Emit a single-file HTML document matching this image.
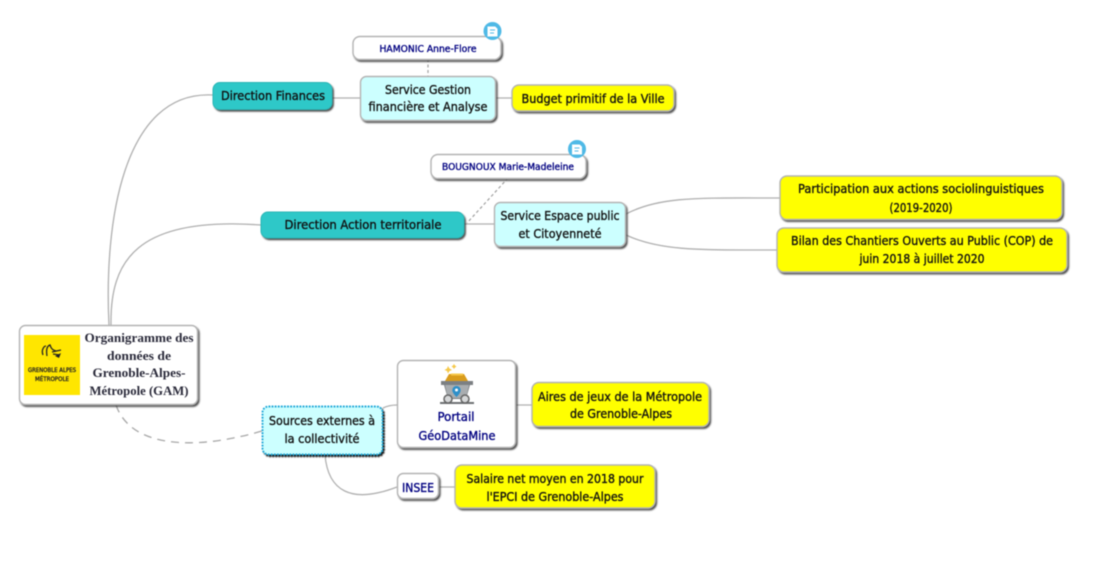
<!DOCTYPE html>
<html lang="fr"><head><meta charset="utf-8"><title>Organigramme</title>
<style>
html,body{margin:0;padding:0;background:#fff;width:1104px;height:569px;overflow:hidden}
svg{display:block;filter:blur(.45px)}
text{font-family:"DejaVu Sans",sans-serif;font-size:12px;text-anchor:middle;fill:#111;stroke:#111;stroke-width:.35px}
.n text,text.n{fill:#000080;stroke:#000080}
.c{fill:none;stroke:#b0b0b0;stroke-width:1.300}
.d{fill:none;stroke:#a0a0a0;stroke-width:1.200;stroke-dasharray:3 2.500}
.b{stroke:#b4b4b4;stroke-width:1.400}
.se{font-family:"Liberation Serif",serif;font-weight:bold;font-size:12.500px;fill:#2a2a3a;stroke:none}
.lg{font-size:6px;fill:#222;stroke:#222;stroke-width:.3px}
</style></head><body>
<svg width="1104" height="569" viewBox="0 0 1104 569" xmlns="http://www.w3.org/2000/svg">
<defs>
<filter id="sh" x="-10%" y="-20%" width="120%" height="150%"><feDropShadow dx="1.400" dy="1.700" stdDeviation=".8" flood-color="#333" flood-opacity=".85"/></filter>
<filter id="sd" x="-10%" y="-20%" width="120%" height="150%"><feDropShadow dx="1.500" dy="1.700" stdDeviation=".5" flood-color="#111" flood-opacity="1"/></filter>
</defs>
<rect width="1104" height="569" fill="#fff"/>
<!-- connectors -->
<path class="c" d="M109 325C104 225 122 90 213 95"/>
<path class="c" d="M111 325C110 262 135 216 261 225"/>
<path d="M116 405C130 446 190 452 262 431" fill="none" stroke="#a8a8a8" stroke-width="1.300" stroke-dasharray="8 6"/>
<path class="c" d="M383 408Q389 405 397 405"/>
<path class="c" d="M325 455C328 490 350 505 397 487"/>
<path class="c" d="M332 98H360M496 98H512M464 224H494M516 405H532M438 487H455"/>
<path class="d" d="M428 59V76M508 178L467 223"/>
<path class="c" d="M626 214C660 196 700 198 780 198"/>
<path class="c" d="M626 235C660 251 700 250 777 250"/>
<!-- nodes -->
<g filter="url(#sh)">
<rect class="b" x="19.500" y="325.500" width="178" height="79" rx="6" fill="#fff"/>
<rect class="b" x="397.500" y="360.500" width="118" height="87" rx="6" fill="#fff"/>
<rect class="b" x="532" y="382.500" width="177" height="44" rx="7" fill="#ffff00"/>
<rect class="b" x="397.500" y="473.500" width="41" height="25" rx="6" fill="#fff"/>
<rect class="b" x="455" y="465" width="200" height="43" rx="7" fill="#ffff00"/>
<rect x="213" y="82.500" width="119" height="27" rx="7" fill="#2fc8c8" stroke="#2ab5b5"/>
<rect class="b" x="360.500" y="76.500" width="135" height="44" rx="6" fill="#ccffff"/>
<rect class="b" x="512" y="85" width="162" height="26" rx="7" fill="#ffff00"/>
<rect class="b" x="353" y="36.500" width="148" height="23" rx="7" fill="#fff"/>
<rect class="b" x="431" y="154.500" width="155" height="24" rx="7" fill="#fff"/>
<rect x="261" y="212" width="203" height="26" rx="7" fill="#2fc8c8" stroke="#2ab5b5"/>
<rect class="b" x="494.500" y="202.500" width="131" height="44" rx="6" fill="#ccffff"/>
<rect class="b" x="780" y="176" width="282" height="43.500" rx="7" fill="#ffff00"/>
<rect class="b" x="777" y="228" width="290" height="44" rx="7" fill="#ffff00"/>
</g>
<g filter="url(#sd)">
<rect x="262.500" y="406.500" width="120" height="48" rx="6" fill="#ccffff" stroke="#1ea7d8" stroke-width="1.900" stroke-dasharray="1.800 1.300"/>
</g>
<!-- logo -->
<rect x="24" y="335" width="56" height="60" fill="#ffe600"/>
<path d="M43 355C41 350 44 346 46 346M47 356C46 350 47 346 50 345C51 348 52 350 56 351M52 352L61 350M53 354L60 355" fill="none" stroke="#222" stroke-width="1.300"/>
<path d="M55 356L61 353L59 358Z" fill="#222"/>
<text class="lg" x="52" y="372" textLength="48" lengthAdjust="spacingAndGlyphs">GRENOBLE ALPES</text>
<text class="lg" x="52" y="381" textLength="34" lengthAdjust="spacingAndGlyphs">MÉTROPOLE</text>
<!-- cart icon -->
<path d="M448 366l1.500 2.500 2.500 1.500-2.500 1-1.500 2.500-1-2.500-2.500-1 2.500-1.500zM454 364l1 1.500 1.500 1-1.500 1-1 1.500-1-1.500-1.500-1 1.500-1z" fill="#f6c94a"/>
<path d="M445 381L449 374H464L468 381Z" fill="#d99c1c"/>
<path d="M451 374.500H463" stroke="#f6c84a" stroke-width="2"/>
<path d="M441 381H473V385H470L466 399H448L444 385H441Z" fill="#7c8083"/>
<path d="M445 385H469L466 398H448Z" fill="#a9adb0"/>
<path d="M456.500 386a4.200 4.200 0 0 1 4.200 4.200c0 2.800-4.200 6.800-4.200 6.800s-4.200-4-4.200-6.800a4.200 4.200 0 0 1 4.200-4.200z" fill="#2d8fc9"/>
<circle cx="456.500" cy="390" r="1.500" fill="#fff"/>
<rect x="440" y="402" width="34" height="2" fill="#6e7173"/>
<circle cx="448" cy="399" r="4" fill="#d5d7d8" stroke="#666" stroke-width="1.500"/>
<circle cx="465" cy="399" r="4" fill="#d5d7d8" stroke="#666" stroke-width="1.500"/>
<!-- note icons -->
<g><circle cx="492.500" cy="31" r="9" fill="#4fb9e6"/><path d="M488 27H495L497 29V36H488Z" fill="#fff" stroke="#fff"/><path d="M490 30H495M490 33H494" stroke="#4fb9e6" stroke-width="1"/></g>
<g><circle cx="577" cy="149" r="9" fill="#4fb9e6"/><path d="M572.500 145H579.500L581.500 147V154H572.500Z" fill="#fff" stroke="#fff"/><path d="M574.500 148H579.500M574.500 151H578.500" stroke="#4fb9e6" stroke-width="1"/></g>
<!-- labels -->
<text class="se" x="139" y="342" textLength="109" lengthAdjust="spacingAndGlyphs">Organigramme des</text>
<text class="se" x="139" y="360" textLength="64" lengthAdjust="spacingAndGlyphs">données de</text>
<text class="se" x="139" y="377" textLength="93" lengthAdjust="spacingAndGlyphs">Grenoble-Alpes-</text>
<text class="se" x="139" y="395" textLength="99" lengthAdjust="spacingAndGlyphs">Métropole (GAM)</text>
<text x="322" y="425" textLength="106" lengthAdjust="spacingAndGlyphs">Sources externes à</text>
<text x="322" y="443" textLength="75" lengthAdjust="spacingAndGlyphs">la collectivité</text>
<g class="n">
<text x="456" y="421" textLength="37" lengthAdjust="spacingAndGlyphs">Portail</text>
<text x="457" y="440" textLength="77" lengthAdjust="spacingAndGlyphs">GéoDataMine</text>
<text x="418" y="492" textLength="32" lengthAdjust="spacingAndGlyphs">INSEE</text>
<text x="428" y="52" textLength="97" lengthAdjust="spacingAndGlyphs" style="font-size:10px">HAMONIC Anne-Flore</text>
<text x="508" y="170" textLength="132" lengthAdjust="spacingAndGlyphs" style="font-size:10px">BOUGNOUX Marie-Madeleine</text>
</g>
<text x="620" y="401" textLength="164" lengthAdjust="spacingAndGlyphs">Aires de jeux de la Métropole</text>
<text x="621" y="418" textLength="102" lengthAdjust="spacingAndGlyphs">de Grenoble-Alpes</text>
<text x="555" y="483" textLength="177" lengthAdjust="spacingAndGlyphs">Salaire net moyen en 2018 pour</text>
<text x="555" y="501" textLength="137" lengthAdjust="spacingAndGlyphs">l'EPCI de Grenoble-Alpes</text>
<text x="273" y="100" textLength="104" lengthAdjust="spacingAndGlyphs">Direction Finances</text>
<text x="428" y="94" textLength="86" lengthAdjust="spacingAndGlyphs">Service Gestion</text>
<text x="428" y="111" textLength="119" lengthAdjust="spacingAndGlyphs">financière et Analyse</text>
<text x="593" y="103" textLength="143" lengthAdjust="spacingAndGlyphs">Budget primitif de la Ville</text>
<text x="363" y="229" textLength="157" lengthAdjust="spacingAndGlyphs">Direction Action territoriale</text>
<text x="560" y="220" textLength="119" lengthAdjust="spacingAndGlyphs">Service Espace public</text>
<text x="560" y="238" textLength="83" lengthAdjust="spacingAndGlyphs">et Citoyenneté</text>
<text x="921" y="193" textLength="246" lengthAdjust="spacingAndGlyphs">Participation aux actions sociolinguistiques</text>
<text x="921" y="212" textLength="63" lengthAdjust="spacingAndGlyphs">(2019-2020)</text>
<text x="922" y="245" textLength="262" lengthAdjust="spacingAndGlyphs">Bilan des Chantiers Ouverts au Public (COP) de</text>
<text x="922" y="263" textLength="125" lengthAdjust="spacingAndGlyphs">juin 2018 à juillet 2020</text>
</svg>
</body></html>
